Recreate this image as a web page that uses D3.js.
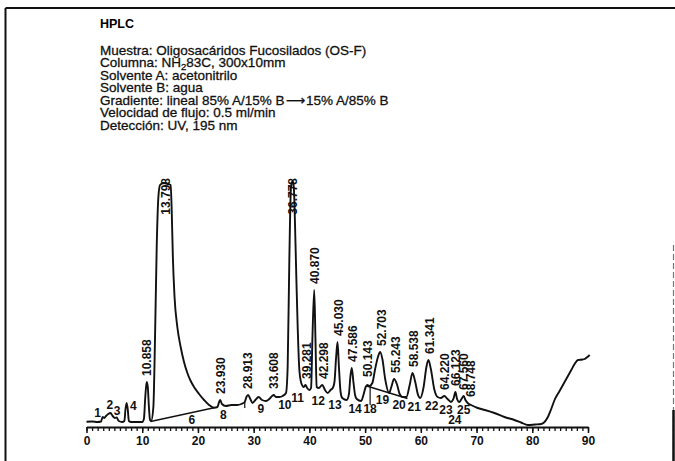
<!DOCTYPE html>
<html><head><meta charset="utf-8">
<script src="https://cdn.jsdelivr.net/npm/d3@7"></script>
<style>body{margin:0;background:#fff} svg{display:block}</style>
</head><body>
<svg id="c" width="675" height="461"></svg>
<script>
// ---------- data ----------
const headerTitle = "HPLC";
const headerLines = [
  ["Muestra:  Oligosacáridos Fucosilados (OS-F)"],
  ["Columna: NH", "2", "83C,  300x10mm"],
  ["Solvente A: acetonitrilo"],
  ["Solvente B: agua"],
  ["Gradiente: lineal 85% A/15% B", "\u27F6", "15% A/85% B"],
  ["Velocidad de flujo: 0.5 ml/min"],
  ["Detección: UV, 195 nm"]
];
// chromatogram trace (time in min, detector signal in arbitrary units)
const traceTime = [0.0,1.0,2.0,2.6,2.9,3.2,3.5,3.9,4.3,4.7,5.1,5.4,5.8,6.4,6.8,7.0,7.2,7.4,7.6,8.0,9.5,10.0,10.3,10.55,10.8,11.0,11.2,11.4,11.6,12.0,12.3,12.6,12.9,13.2,13.8,14.6,15.1,15.3,15.5,15.8,16.3,16.9,17.5,18.1,18.7,19.3,20.2,21.1,22.0,22.9,23.5,23.8,24.0,24.3,25.0,26.0,27.0,27.8,28.4,28.7,29.0,29.4,29.8,30.3,30.9,31.5,32.2,32.8,33.3,33.6,34.0,34.6,35.2,35.8,36.1,36.4,36.7,37.0,37.2,37.5,37.7,37.9,38.2,38.6,39.0,39.3,39.6,40.0,40.3,40.55,40.87,41.1,41.3,41.7,42.3,42.8,43.3,43.8,44.2,44.5,44.8,45.05,45.3,45.6,45.9,46.7,47.1,47.35,47.6,47.9,48.2,48.5,49.3,49.7,50.1,50.4,50.8,51.3,51.8,52.3,52.7,53.1,53.6,54.3,54.7,55.2,55.7,56.2,56.7,57.4,58.0,58.5,59.0,59.5,59.9,60.5,61.0,61.35,61.8,62.4,63.0,63.6,64.2,64.8,65.4,65.9,66.2,66.5,66.9,67.3,67.7,68.0,68.4,69.0,70.2,71.5,73.2,75.0,76.8,78.0,79.2,80.5,81.6,82.2,82.8,83.4,84.0,84.9,85.8,87.0,87.6,88.2,89.0,89.4,89.9,90.3];
const traceSignal = [5.3,5.5,5,5.5,10,9,11,13,14,11,9,9.5,6,5,6,18,24,18,6,5,5,5,8,30,45,40,20,7,6,20,90,180,230,242,244,243,242,215,170,130,100,80,65,54,46,40,33,27,22,19.3,20,25,27,23,21,22,22,23,25,30,32,28,24,27,30,27,26,28,31,32,30,30,31,34,60,167,240,246,240,185,140,100,57,43,40,42,39,37,39,90,137,85,40,39,42,37,34,37,39,45,70,85,60,35,29,27,33,50,59,45,32,28,26,32,40,42,41,44,58,70,75,68,48,34,40,48,43,33,30,30,42,54,45,32,29,40,60,67,58,38,30,29,31,28,25,29,35,28,25,28,31,27,24,22,19,17,14,10,7,4.5,2,2.5,3,5,10,18,27,36,45,57,63,67,67.5,68,70,72];
// integration baselines: [t1, s1, t2, s2]
const baselineSegs = [[11.5, 5.5, 22.9, 19.3], [50.3, 41, 57.6, 28.5]];
// drop lines: [t, s1, s2]
const dropLines = [[28.4, 25, 19], [50.9, 41, 22]];
// retention time labels
const peakRT     = [10.858, 13.798, 23.930, 28.913, 33.608, 36.778, 39.281, 40.870, 42.298, 45.030, 47.586, 50.143, 52.703, 55.243, 58.538, 61.341, 64.220, 66.123, 67.560, 68.748];
const peakApex   = [45, 244, 27, 32, 32, 246, 42, 137, 42, 85, 59, 44, 75, 48, 54, 67, 31, 35, 31, 24];
const peakLabelX = [10.858, 14.2, 24.0, 29.0, 33.6, 36.95, 39.45, 41.0, 42.55, 45.3, 47.7, 50.4, 52.9, 55.4, 58.7, 61.5, 64.2, 66.2, 67.6, 69.0];
// peak numbers
const peakNumbers   = ["1","2","3","4","6","8","9","10","11","12","13","14","18","19","20","21","22","23","24","25"];
const peakNumTime   = [2.0,4.2,5.5,8.4,18.9,24.55,31.3,35.6,37.9,41.6,44.6,48.2,50.9,53.1,56.1,58.8,61.95,64.5,66.1,67.7];
const peakNumSignal = [14.3,22,16.3,21.3,7.7,12,18.7,22,29.7,26.3,22,18.7,18.7,27.7,22.7,20.3,21,17.7,7,17.7];
const majorTicks = d3.range(0, 91, 10);
const minorTicks = d3.range(0, 91, 1);

// ---------- drawing ----------
const svg = d3.select("#c");
const FONT = "'Liberation Sans', Arial, Helvetica, sans-serif";
const x = d3.scaleLinear().domain([0, 90]).range([86.5, 588]);
const y = d3.scaleLinear().domain([0, 250]).range([427, 177]);

// frame
svg.append("line").attr("x1",5.5).attr("x2",675).attr("y1",8).attr("y2",8).attr("stroke","#111").attr("stroke-width",2);
svg.append("line").attr("x1",5.5).attr("x2",5.5).attr("y1",8).attr("y2",461).attr("stroke","#111").attr("stroke-width",2);
svg.append("line").attr("x1",673.5).attr("x2",673.5).attr("y1",245).attr("y2",461).attr("stroke","#777").attr("stroke-width",1.2).attr("stroke-dasharray","6,3");
svg.append("line").attr("x1",673.5).attr("x2",673.5).attr("y1",410).attr("y2",461).attr("stroke","#111").attr("stroke-width",2.5);

// header
svg.append("text").attr("x",100).attr("y",27.5).attr("font-family",FONT).attr("font-size",12.5).attr("font-weight","bold").text(headerTitle);
headerLines.forEach((parts,i)=>{
  const t = svg.append("text").attr("x",100).attr("y",54.7 + i*12.5).attr("font-family",FONT).attr("font-size",13.5)
    .attr("fill","#111").attr("stroke","#111").attr("stroke-width",0.3);
  if (parts.length === 1) t.text(parts[0]);
  else if (parts[1] === "2") {
    t.append("tspan").text(parts[0]);
    t.append("tspan").attr("font-size",9.5).attr("dy",3).text(parts[1]);
    t.append("tspan").attr("dy",-3).text(parts[2]);
  } else {
    t.append("tspan").text(parts[0]);
    t.append("tspan").attr("font-family","'DejaVu Sans', sans-serif").attr("dx",1).text(parts[1]);
    t.append("tspan").attr("dx",1).text(parts[2]);
  }
});

// axes
const gMinor = svg.append("g").attr("transform","translate(0,427)")
  .call(d3.axisBottom(x).tickValues(minorTicks).tickSize(4).tickSizeOuter(0).tickFormat(""));
gMinor.select(".domain").attr("stroke","#111").attr("stroke-width",2);
gMinor.selectAll(".tick line").attr("stroke","#111").attr("stroke-width",1.3);
const gMajor = svg.append("g").attr("transform","translate(0,427)")
  .call(d3.axisBottom(x).tickValues(majorTicks).tickSize(6).tickPadding(3).tickSizeOuter(0));
gMajor.select(".domain").remove();
gMajor.selectAll(".tick line").attr("stroke","#111").attr("stroke-width",1.5);
gMajor.selectAll(".tick text").attr("font-family",FONT).attr("font-size",12).attr("font-weight","bold").attr("fill","#111");

// baselines & drop lines
baselineSegs.forEach(s=>{
  svg.append("line").attr("x1",x(s[0])).attr("y1",y(s[1])).attr("x2",x(s[2])).attr("y2",y(s[3]))
    .attr("stroke","#111").attr("stroke-width",1.4);
});
dropLines.forEach(d=>{
  svg.append("line").attr("x1",x(d[0])).attr("x2",x(d[0])).attr("y1",y(d[1])).attr("y2",y(d[2]))
    .attr("stroke","#111").attr("stroke-width",1.2);
});

// trace
const pts = traceTime.map((t,i)=>[t, traceSignal[i]]);
svg.append("path").datum(pts)
  .attr("d", d3.line().x(d=>x(d[0])).y(d=>y(d[1])).curve(d3.curveMonotoneX))
  .attr("fill","none").attr("stroke","#111").attr("stroke-width",1.9).attr("stroke-linejoin","round");

// retention time labels (rotated)
peakRT.forEach((rt,i)=>{
  const px = x(peakLabelX[i]);
  const big = peakApex[i] > 200;
  const py = big ? 178 : y(peakApex[i]) - 6;
  svg.append("text")
    .attr("transform",`translate(${px},${py}) rotate(-90)`)
    .attr("text-anchor", big ? "end" : "start")
    .attr("dy","0.36em")
    .attr("font-family",FONT).attr("font-size",12).attr("font-weight","bold").attr("fill","#111")
    .text(rt.toFixed(3));
});

// peak numbers
peakNumbers.forEach((n,i)=>{
  svg.append("text").attr("x",x(peakNumTime[i])).attr("y",y(peakNumSignal[i]))
    .attr("text-anchor","middle").attr("dy","0.36em")
    .attr("font-family",FONT).attr("font-size",12).attr("font-weight","bold").attr("fill","#111")
    .text(n);
});
</script>
</body></html>
